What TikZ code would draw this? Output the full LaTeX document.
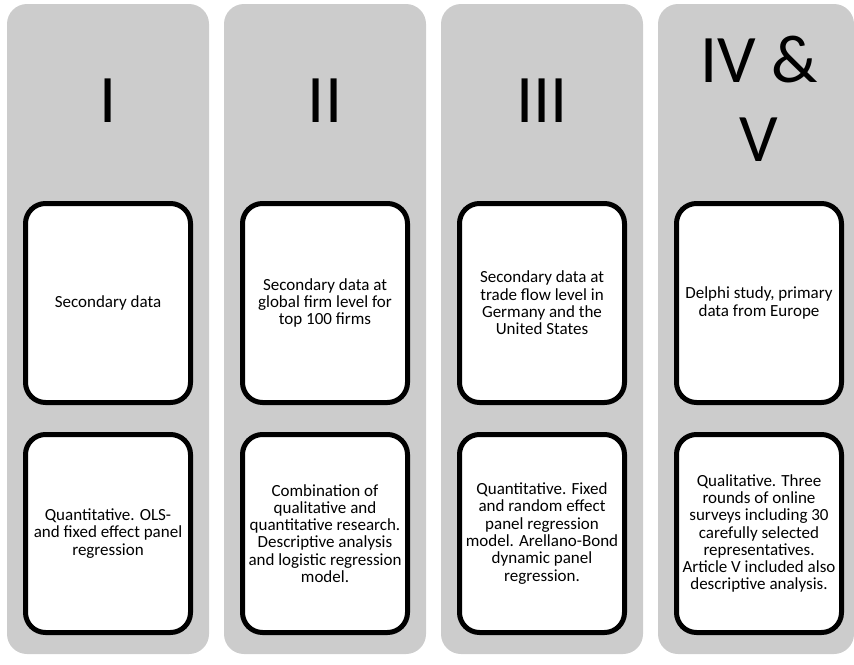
\documentclass[tikz,border=0pt]{standalone}
\usepackage{fontspec}
\setmainfont{Carlito}
\definecolor{colgrey}{RGB}{204,204,204}
\begin{document}
\begin{tikzpicture}[x=1pt,y=-1pt,
    column/.style={fill=colgrey,rounded corners=20pt,minimum width=202pt,minimum height=650pt,inner sep=0pt},
    numeral/.style={font=\fontsize{68}{79}\selectfont,align=center,inner sep=0pt},
    card/.style={draw=black,fill=white,line width=5pt,rounded corners=20pt,minimum width=165pt,minimum height=199pt,inner sep=0pt,align=center,font=\fontsize{17}{17.3}\selectfont}]
\useasboundingbox (0,0) rectangle (854,664);
% article columns
\node[column] (colI) at (108,329) {};
\node[column] (colII) at (325,329) {};
\node[column] (colIII) at (542,329) {};
\node[column,minimum width=196pt] (colIV) at (756,329) {};
% headings
\node[numeral] (numI) at (108,101) {I};
\node[numeral] (numII) at (325,101) {II};
\node[numeral] (numIII) at (542,101) {III};
\node[numeral] (numIV) at (759,99) {IV \&\\V};
% data
\node[card] (dataI) at (108,303) {Secondary data};
\node[card] (dataII) at (325,303) {Secondary data at\\global firm level for\\top 100 firms};
\node[card] (dataIII) at (542,303) {Secondary data at\\trade flow level in\\Germany and the\\United States};
\node[card] (dataIV) at (759,303) {Delphi study, primary\\data from Europe};
% methods
\node[card,minimum height=198pt] (methI) at (108,533.5) {Quantitative. OLS-\\and fixed effect panel\\regression};
\node[card,minimum height=198pt] (methII) at (325,533.5) {Combination of\\qualitative and\\quantitative research.\\Descriptive analysis\\and logistic regression\\model.};
\node[card,minimum height=198pt] (methIII) at (542,533.5) {Quantitative. Fixed\\and random effect\\panel regression\\model. Arellano-Bond\\dynamic panel\\regression.};
\node[card,minimum height=198pt] (methIV) at (759,533.5) {Qualitative. Three\\rounds of online\\surveys including 30\\carefully selected\\representatives.\\Article V included also\\descriptive analysis.};
\end{tikzpicture}
\end{document}
